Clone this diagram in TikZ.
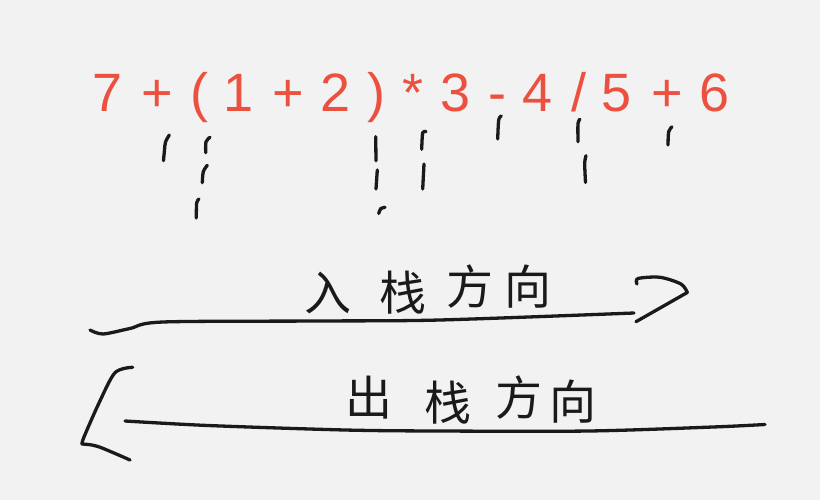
\documentclass[tikz,border=0pt]{standalone}
\usepackage{fontspec}
\setmainfont{Liberation Sans}
\newfontfamily\cjk{Noto Sans CJK SC}
\definecolor{bg}{HTML}{F2F2F2}
\definecolor{exprred}{HTML}{EC503F}
\definecolor{ink}{HTML}{1A1A1A}
\tikzset{
  tok/.style={text=exprred, font=\fontsize{54}{54}\selectfont, inner sep=0pt, anchor=base},
  hz/.style={text=ink, font=\cjk\fontsize{47}{47}\selectfont, inner sep=0pt},
  pen/.style={draw=ink, line width=3.3pt, line cap=round, line join=round},
}
\begin{document}
\begin{tikzpicture}[x=1pt,y=-1pt]
\fill[bg] (0,0) rectangle (820,500);
\useasboundingbox (0,0) rectangle (820,500);

% expression
\node[tok] (t1)  at (108,111.7)   {7};
\node[tok] (t2)  at (157,111.7)   {+};
\node[tok] (t3)  at (199,111.7)   {(};
\node[tok] (t4)  at (239,111.7)   {1};
\node[tok] (t5)  at (288,111.7)   {+};
\node[tok] (t6)  at (335.5,111.7) {2};
\node[tok] (t7)  at (376,111.7)   {)};
\node[tok] (t8)  at (413.5,111.7) {*};
\node[tok] (t9)  at (456,111.7)   {3};
\node[tok] (t10) at (497.5,111.7) {-};
\node[tok] (t11) at (538,111.7)   {4};
\node[tok] (t12) at (578.5,111.7) {/};
\node[tok] (t13) at (616.5,111.7) {5};
\node[tok] (t14) at (667,111.7)   {+};
\node[tok] (t15) at (714.5,111.7) {6};

% tick strokes
\draw[pen] plot[smooth] coordinates {(169.3,135) (165.5,142) (164.5,150) (163.5,160.7)};
\draw[pen] plot[smooth] coordinates {(210,137.3) (206,141.7) (205.7,152.7)};
\draw[pen] plot[smooth] coordinates {(207.3,165.3) (203.3,171.7) (202.3,182.7)};
\draw[pen] plot[smooth] coordinates {(199,199) (196.7,202.7) (196.3,218)};
\draw[pen] (375.7,136.7) -- (376,160.7);
\draw[pen] (377.3,170) -- (376,189);
\draw[pen] plot[smooth] coordinates {(385,207.3) (380.7,208.7) (378.7,213.5)};
\draw[pen] plot[smooth] coordinates {(426,131.7) (422.7,132.7) (421.7,149.3)};
\draw[pen] (424,164) -- (422.7,189);
\draw[pen] plot[smooth] coordinates {(501.3,116) (498.7,120) (497.7,139)};
\draw[pen] plot[smooth] coordinates {(580,119.3) (578,123.3) (578,141.7)};
\draw[pen] plot[smooth] coordinates {(586,155.7) (584.7,163.3) (585.5,182.5)};
\draw[pen] plot[smooth] coordinates {(672,126.7) (668.7,131.7) (668,145)};

% push direction
\node[hz] (a1) at (328,293) {入};
\node[hz] (a2) at (403,293) {栈};
\node[hz] (a3) at (470,287) {方};
\node[hz] (a4) at (528,287) {向};
\draw[pen] plot[smooth] coordinates {(90,330) (103,334) (130,328.5) (163,322) (320,321) (440,320) (634,313)};
\draw[pen] plot[smooth] coordinates {(637,284) (638,278.5) (660,277.3) (681,284) (687.3,292.5)};
\draw[pen] (687.3,292.5) -- (636,321.7);

% pop direction
\node[hz] (b1) at (369,398) {出};
\node[hz] (b2) at (448,403) {栈};
\node[hz] (b3) at (519,398) {方};
\node[hz] (b4) at (573,402) {向};
\draw[pen] plot[smooth] coordinates {(125,421) (208,425.5) (345,430) (437,431) (589,431) (713,427) (765,424.5)};
\draw[pen] plot[smooth] coordinates {(132.7,367.3) (115,372.7) (99,403) (84,437) (82,444)};
\draw[pen] plot[smooth] coordinates {(82,444) (98,446.5) (130,460)};
\end{tikzpicture}
\end{document}
